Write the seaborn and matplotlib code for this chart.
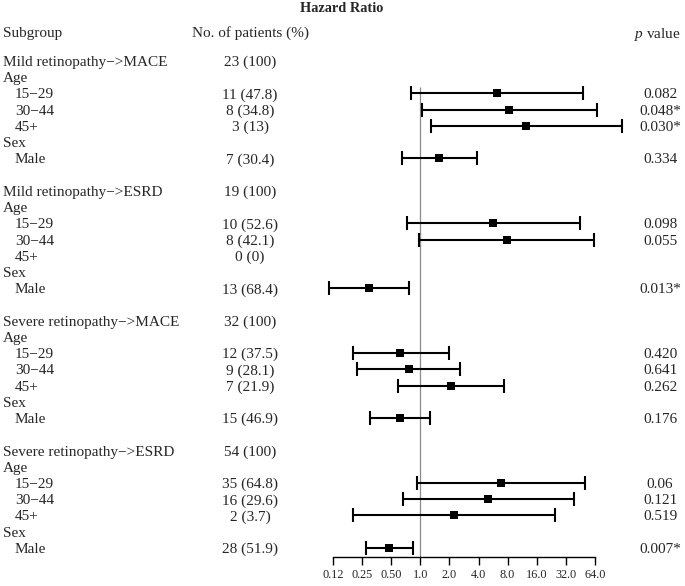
import numpy as np
import pandas as pd
import matplotlib
matplotlib.use("Agg")
import matplotlib.pyplot as plt
import matplotlib.transforms as mtrans
import seaborn as sns

# ---- data ----
labels = [
    "Mild retinopathy−>MACE", "Age", "15−29", "30−44", "45+", "Sex", "Male", "",
    "Mild retinopathy−>ESRD", "Age", "15−29", "30−44", "45+", "Sex", "Male", "",
    "Severe retinopathy−>MACE", "Age", "15−29", "30−44", "45+", "Sex", "Male", "",
    "Severe retinopathy−>ESRD", "Age", "15−29", "30−44", "45+", "Sex", "Male",
]
patients = [
    "23 (100)", "", "11 (47.8)", "8 (34.8)", "3 (13)", "", "7 (30.4)", "",
    "19 (100)", "", "10 (52.6)", "8 (42.1)", "0 (0)", "", "13 (68.4)", "",
    "32 (100)", "", "12 (37.5)", "9 (28.1)", "7 (21.9)", "", "15 (46.9)", "",
    "54 (100)", "", "35 (64.8)", "16 (29.6)", "2 (3.7)", "", "28 (51.9)",
]
hr = [np.nan, np.nan, 6.27, 8.3, 12.5, np.nan, 1.57, np.nan,
      np.nan, np.nan, 5.7, 7.8, np.nan, np.nan, 0.29, np.nan,
      np.nan, np.nan, 0.62, 0.76, 2.08, np.nan, 0.61, np.nan,
      np.nan, np.nan, 6.9, 5.06, 2.22, np.nan, 0.47]
ci_low = [np.nan, np.nan, 0.80, 1.03, 1.29, np.nan, 0.64, np.nan,
          np.nan, np.nan, 0.72, 0.97, np.nan, np.nan, 0.112, np.nan,
          np.nan, np.nan, 0.20, 0.22, 0.58, np.nan, 0.30, np.nan,
          np.nan, np.nan, 0.93, 0.66, 0.20, np.nan, 0.27]
ci_high = [np.nan, np.nan, 48.8, 67.0, 122.0, np.nan, 3.84, np.nan,
           np.nan, np.nan, 45.0, 62.9, np.nan, np.nan, 0.77, np.nan,
           np.nan, np.nan, 2.0, 2.58, 7.36, np.nan, 1.26, np.nan,
           np.nan, np.nan, 50.8, 39.0, 25.0, np.nan, 0.83]
pvals = ["", "", "0.082", "0.048*", "0.030*", "", "0.334", "",
         "", "", "0.098", "0.055", "", "", "0.013*", "",
         "", "", "0.420", "0.641", "0.262", "", "0.176", "",
         "", "", "0.06", "0.121", "0.519", "", "0.007*"]
tick_vals = [0.125, 0.25, 0.5, 1, 2, 4, 8, 16, 32, 64]
tick_labels = ["0.12", "0.25", "0.50", "1.0", "2.0", "4.0", "8.0", "16.0", "32.0", "64.0"]
sub_levels = ["15−29", "30−44", "45+", "Male"]

df = pd.DataFrame({"label": labels, "patients": patients, "hr": hr,
                   "lo": ci_low, "hi": ci_high, "p": pvals})
df["row"] = np.arange(len(df))
est = df.dropna(subset=["hr"])

# ---- style ----
sns.set_theme(style="white")
plt.rcParams["font.family"] = ["Liberation Serif", "DejaVu Serif"]
plt.rcParams["mathtext.fontset"] = "custom"
plt.rcParams["mathtext.rm"] = "Liberation Serif"
plt.rcParams["mathtext.it"] = "Liberation Serif:italic"

W, H = 685, 586
fig = plt.figure(figsize=(W / 100, H / 100), dpi=100)
# axes spans the x-axis line (0.125 .. 64) and rows -3 .. 30.6
ax = fig.add_axes([333.3 / W, 1 - 557.0 / H, (594.7 - 333.3) / W, (557.0 - 12) / H])
ax.set_xscale("log", base=2)
ax.set_xlim(0.125, 64)
ax.set_ylim(30.56, -3.02)

# reference line at HR = 1
ax.vlines(1, 1.6, 30.56, color="#8a8a8a", lw=0.9, zorder=1)

# confidence intervals
ax.errorbar(est["hr"], est["row"],
            xerr=[est["hr"] - est["lo"], est["hi"] - est["hr"]],
            fmt="none", ecolor="black", elinewidth=1.5, capsize=5, capthick=1.5,
            clip_on=False, zorder=2)
sns.scatterplot(data=est, x="hr", y="row", marker="s", s=40, color="black",
                linewidth=0, ax=ax, zorder=3, clip_on=False)

ax.set_xticks(tick_vals)
ax.set_xticklabels(tick_labels, fontsize=8.8)
ax.xaxis.set_minor_locator(matplotlib.ticker.NullLocator())
ax.set_yticks([])
ax.set_xlabel("")
ax.set_ylabel("")
ax.tick_params(axis="x", direction="out", length=5.5, width=1.0, color="black",
               bottom=True, pad=3)
sns.despine(ax=ax, left=True)
ax.spines["bottom"].set_linewidth(1.0)
ax.spines["bottom"].set_color("black")

# ---- text columns ----
tr = mtrans.blended_transform_factory(fig.transFigure, ax.transData)
fs = 11
for _, r in df.iterrows():
    if r["label"]:
        x0 = 15 if r["label"] in sub_levels else 3
        ax.text(x0 / W, r["row"], r["label"], transform=tr, fontsize=fs,
                ha="left", va="center_baseline")
    if r["patients"]:
        ax.text(250 / W, r["row"], r["patients"], transform=tr, fontsize=fs,
                ha="center", va="center_baseline")
    if r["p"]:
        ax.text(660 / W, r["row"], r["p"], transform=tr, fontsize=fs,
                ha="center", va="center_baseline")

ax.text(3 / W, -1.8, "Subgroup", transform=tr, fontsize=fs, ha="left", va="center_baseline")
ax.text(251 / W, -1.8, "No. of patients (%)", transform=tr, fontsize=fs,
        ha="center", va="center_baseline")
ax.text(681 / W, -1.8, "$p$ value", transform=tr, fontsize=fs, ha="right",
        va="center_baseline")
fig.text(342 / W, 1 - 8 / H, "Hazard Ratio", fontsize=10.3, fontweight="bold",
         ha="center", va="center")

fig.savefig("out.png", dpi=100)
